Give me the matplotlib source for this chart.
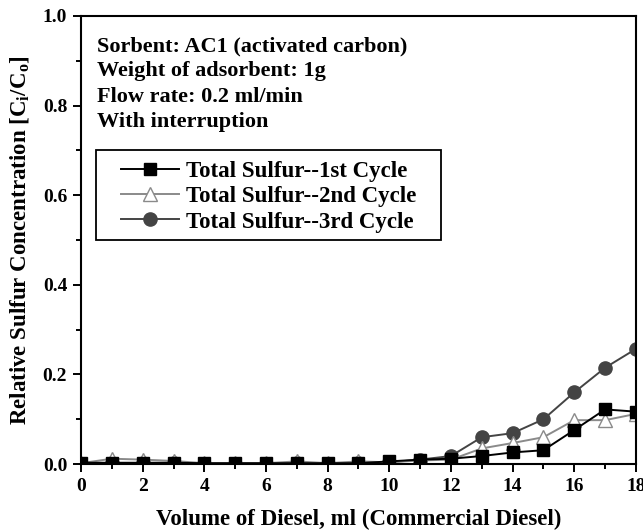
import numpy as np
import matplotlib.pyplot as plt
from matplotlib.ticker import MultipleLocator
from matplotlib.patches import Rectangle

plt.rcParams['font.family'] = ['Liberation Serif', 'DejaVu Serif']
plt.rcParams['font.weight'] = 'bold'
plt.rcParams['mathtext.fontset'] = 'custom'
plt.rcParams['mathtext.bf'] = 'Liberation Serif:bold'
plt.rcParams['mathtext.rm'] = 'Liberation Serif:bold'

volume = [0, 1, 2, 3, 4, 5, 6, 7, 8, 9, 10, 11, 12, 13, 14, 15, 16, 17, 18]
cycle1 = [0.003, 0.003, 0.003, 0.003, 0.002, 0.002, 0.002, 0.002, 0.002, 0.002,
          0.006, 0.010, 0.012, 0.018, 0.026, 0.031, 0.076, 0.122, 0.117]
cycle2 = [0.002, 0.012, 0.010, 0.007, 0.002, 0.002, 0.002, 0.006, 0.002, 0.006,
          0.004, 0.008, 0.010, 0.035, 0.047, 0.060, 0.098, 0.098, 0.112]
cycle3 = [0.001, 0.002, 0.002, 0.002, 0.001, 0.001, 0.001, 0.002, 0.001, 0.002,
          0.004, 0.010, 0.018, 0.060, 0.069, 0.100, 0.160, 0.215, 0.257]

fig = plt.figure(figsize=(6.43, 5.31), dpi=100)
ax = fig.add_axes([0.126, 0.126, 0.863, 0.844])

ax.plot(volume, cycle1, '-s', color='black', mfc='black', mec='black',
        ms=8.5, lw=1.4, label='Total Sulfur--1st Cycle', zorder=3)
ax.plot(volume, cycle2, '-^', color='#8a8a8a', mfc='white', mec='#8a8a8a',
        ms=9.5, lw=1.4, label='Total Sulfur--2nd Cycle', zorder=2)
ax.plot(volume, cycle3, '-o', color='#444444', mfc='#444444', mec='#444444',
        ms=9.5, lw=1.4, label='Total Sulfur--3rd Cycle', zorder=1)

ax.set_xlim(0, 18)
ax.set_ylim(0, 1.0)
ax.xaxis.set_major_locator(MultipleLocator(2))
ax.xaxis.set_minor_locator(MultipleLocator(1))
ax.yaxis.set_major_locator(MultipleLocator(0.2))
ax.yaxis.set_minor_locator(MultipleLocator(0.1))
ax.yaxis.set_major_formatter(plt.FormatStrFormatter('%.1f'))
ax.tick_params(which='both', direction='out', top=False, right=False,
               labelsize=14, width=1.4)
ax.tick_params(which='major', length=6, pad=4)
ax.tick_params(which='minor', length=3.5)
for s in ax.spines.values():
    s.set_linewidth(1.5)

ax.set_xlabel('Volume of Diesel, ml (Commercial Diesel)', fontsize=16.5,
              fontweight='bold', labelpad=10)
ax.set_ylabel(r'Relative Sulfur Concentration [C$_\mathbf{i}$/C$_\mathbf{o}$]',
              fontsize=16.5, fontweight='bold', labelpad=8)

info = ['Sorbent: AC1 (activated carbon)', 'Weight of adsorbent: 1g',
        'Flow rate: 0.2 ml/min', 'With interruption']
ax.text(0.028, 0.955, '\n'.join(info), transform=ax.transAxes, va='top',
        ha='left', fontsize=16, fontweight='bold', linespacing=1.36)

# legend box drawn separately so the padding matches the original
ax.add_patch(Rectangle((0.027, 0.5), 0.622, 0.201, transform=ax.transAxes,
                       fill=False, edgecolor='black', lw=1.3, zorder=5))
leg = ax.legend(loc='upper left', bbox_to_anchor=(0.072, 0.676), fontsize=16.5,
                frameon=False, borderaxespad=0, borderpad=0,
                handlelength=2.55, handletextpad=0.3, labelspacing=0.18)
for t in leg.get_texts():
    t.set_fontweight('bold')

fig.savefig('out.png', dpi=100)
